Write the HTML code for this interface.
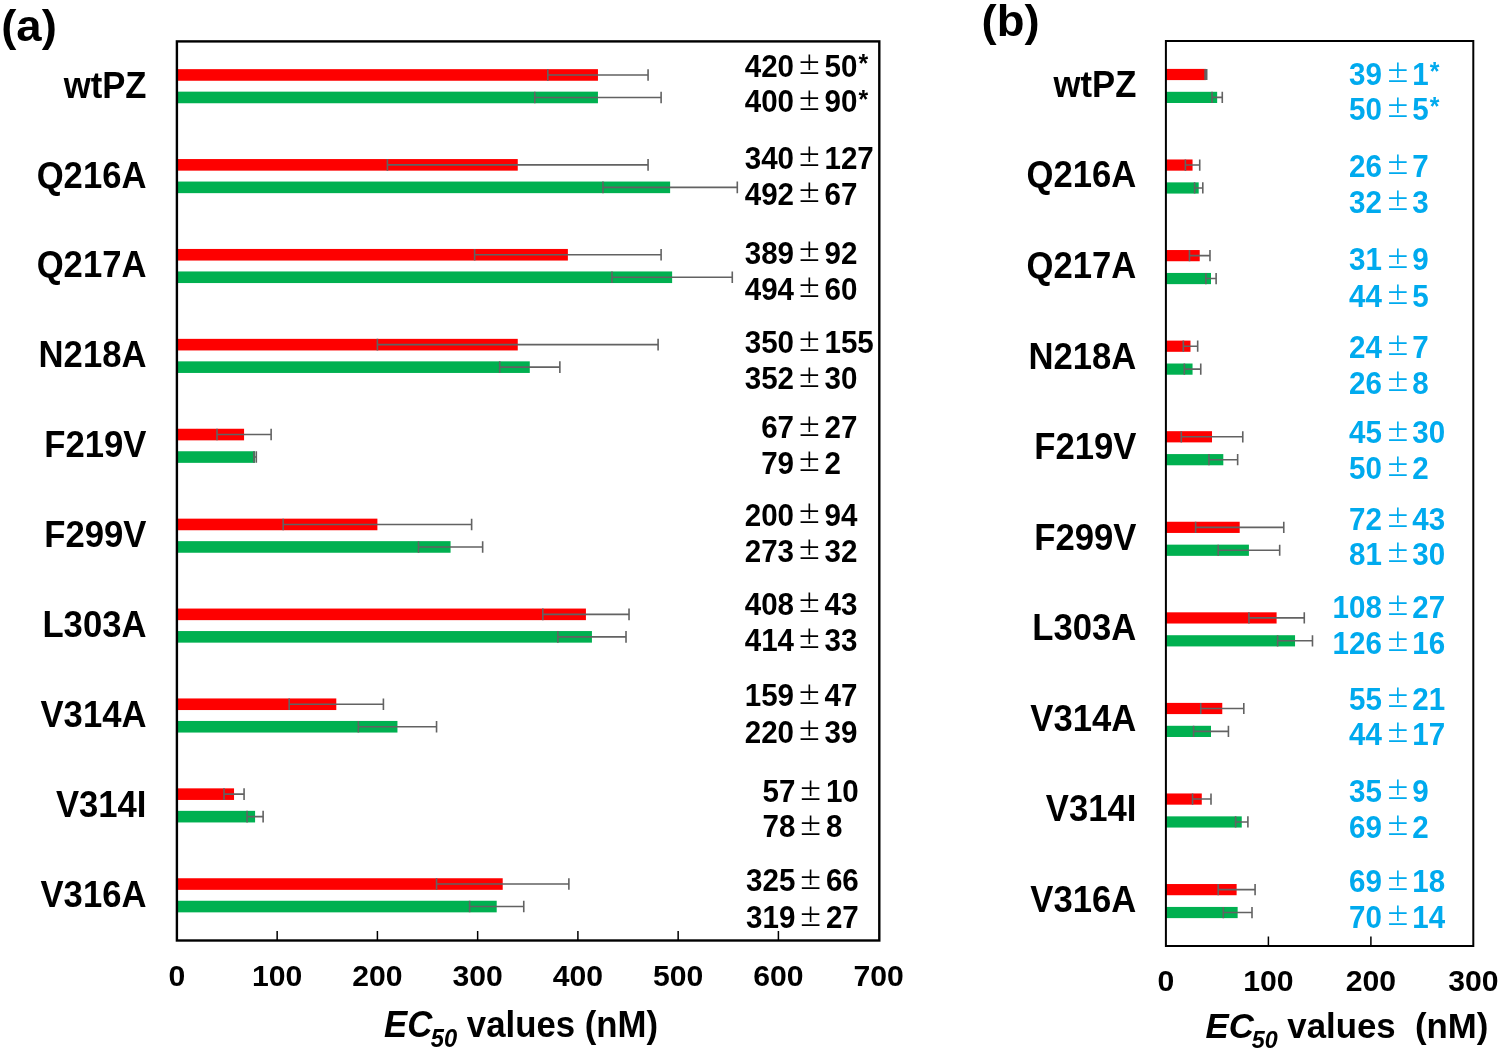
<!DOCTYPE html>
<html lang="en"><head><meta charset="utf-8"><title>EC50 values</title>
<style>html,body{margin:0;padding:0;background:#fff}svg{display:block;will-change:transform}text{font-family:"Liberation Sans",sans-serif;font-weight:bold}.pm{font-family:"Noto Sans CJK JP","IPAGothic",sans-serif;font-weight:400}</style></head><body>
<svg width="1499" height="1057" viewBox="0 0 1499 1057">
<rect width="1499" height="1057" fill="#fff"/>
<rect x="176.90" y="69.15" width="421.05" height="11.6" fill="#fe0000"/>
<path d="M547.82 74.95H648.07M547.82 69.15v11.6M648.07 69.15v11.6" stroke="#626262" stroke-width="1.6" fill="none"/>
<rect x="176.90" y="91.65" width="421.05" height="11.6" fill="#00b050"/>
<path d="M534.79 97.45H661.11M534.79 91.65v11.6M661.11 91.65v11.6" stroke="#626262" stroke-width="1.6" fill="none"/>
<rect x="176.90" y="159.05" width="340.85" height="11.6" fill="#fe0000"/>
<path d="M387.42 164.85H648.07M387.42 159.05v11.6M648.07 159.05v11.6" stroke="#626262" stroke-width="1.6" fill="none"/>
<rect x="176.90" y="181.55" width="493.23" height="11.6" fill="#00b050"/>
<path d="M602.96 187.35H737.30M602.96 181.55v11.6M737.30 181.55v11.6" stroke="#626262" stroke-width="1.6" fill="none"/>
<rect x="176.90" y="248.95" width="390.97" height="11.6" fill="#fe0000"/>
<path d="M474.64 254.75H661.11M474.64 248.95v11.6M661.11 248.95v11.6" stroke="#626262" stroke-width="1.6" fill="none"/>
<rect x="176.90" y="271.45" width="495.23" height="11.6" fill="#00b050"/>
<path d="M611.99 277.25H732.28M611.99 271.45v11.6M732.28 271.45v11.6" stroke="#626262" stroke-width="1.6" fill="none"/>
<rect x="176.90" y="338.85" width="340.85" height="11.6" fill="#fe0000"/>
<path d="M377.40 344.65H658.10M377.40 338.85v11.6M658.10 338.85v11.6" stroke="#626262" stroke-width="1.6" fill="none"/>
<rect x="176.90" y="361.35" width="352.88" height="11.6" fill="#00b050"/>
<path d="M499.71 367.15H559.86M499.71 361.35v11.6M559.86 361.35v11.6" stroke="#626262" stroke-width="1.6" fill="none"/>
<rect x="176.90" y="428.75" width="67.17" height="11.6" fill="#fe0000"/>
<path d="M217.00 434.55H271.13M217.00 428.75v11.6M271.13 428.75v11.6" stroke="#626262" stroke-width="1.6" fill="none"/>
<rect x="176.90" y="451.25" width="78.19" height="11.6" fill="#00b050"/>
<path d="M253.89 457.05H256.30M253.89 451.25v11.6M256.30 451.25v11.6" stroke="#626262" stroke-width="1.6" fill="none"/>
<rect x="176.90" y="518.65" width="200.50" height="11.6" fill="#fe0000"/>
<path d="M283.17 524.45H471.63M283.17 518.65v11.6M471.63 518.65v11.6" stroke="#626262" stroke-width="1.6" fill="none"/>
<rect x="176.90" y="541.15" width="273.68" height="11.6" fill="#00b050"/>
<path d="M418.50 546.95H482.66M418.50 541.15v11.6M482.66 541.15v11.6" stroke="#626262" stroke-width="1.6" fill="none"/>
<rect x="176.90" y="608.55" width="409.02" height="11.6" fill="#fe0000"/>
<path d="M542.81 614.35H629.03M542.81 608.55v11.6M629.03 608.55v11.6" stroke="#626262" stroke-width="1.6" fill="none"/>
<rect x="176.90" y="631.05" width="415.03" height="11.6" fill="#00b050"/>
<path d="M557.85 636.85H626.02M557.85 631.05v11.6M626.02 631.05v11.6" stroke="#626262" stroke-width="1.6" fill="none"/>
<rect x="176.90" y="698.45" width="159.40" height="11.6" fill="#fe0000"/>
<path d="M289.18 704.25H383.41M289.18 698.45v11.6M383.41 698.45v11.6" stroke="#626262" stroke-width="1.6" fill="none"/>
<rect x="176.90" y="720.95" width="220.55" height="11.6" fill="#00b050"/>
<path d="M358.35 726.75H436.55M358.35 720.95v11.6M436.55 720.95v11.6" stroke="#626262" stroke-width="1.6" fill="none"/>
<rect x="176.90" y="788.35" width="57.14" height="11.6" fill="#fe0000"/>
<path d="M224.02 794.15H244.07M224.02 788.35v11.6M244.07 788.35v11.6" stroke="#626262" stroke-width="1.6" fill="none"/>
<rect x="176.90" y="810.85" width="78.19" height="11.6" fill="#00b050"/>
<path d="M247.07 816.65H263.12M247.07 810.85v11.6M263.12 810.85v11.6" stroke="#626262" stroke-width="1.6" fill="none"/>
<rect x="176.90" y="878.25" width="325.81" height="11.6" fill="#fe0000"/>
<path d="M436.55 884.05H568.88M436.55 878.25v11.6M568.88 878.25v11.6" stroke="#626262" stroke-width="1.6" fill="none"/>
<rect x="176.90" y="900.75" width="319.80" height="11.6" fill="#00b050"/>
<path d="M469.63 906.55H523.76M469.63 900.75v11.6M523.76 900.75v11.6" stroke="#626262" stroke-width="1.6" fill="none"/>
<rect x="176.90" y="41.40" width="702.40" height="899.10" fill="none" stroke="#000" stroke-width="2.4"/>
<text transform="translate(176.90 986.00) scale(1.04 1.0)" font-size="29" text-anchor="middle">0</text>
<path d="M277.15 940.50v-9.5" stroke="#000" stroke-width="1.5"/>
<text transform="translate(277.15 986.00) scale(1.04 1.0)" font-size="29" text-anchor="middle">100</text>
<path d="M377.40 940.50v-9.5" stroke="#000" stroke-width="1.5"/>
<text transform="translate(377.40 986.00) scale(1.04 1.0)" font-size="29" text-anchor="middle">200</text>
<path d="M477.65 940.50v-9.5" stroke="#000" stroke-width="1.5"/>
<text transform="translate(477.65 986.00) scale(1.04 1.0)" font-size="29" text-anchor="middle">300</text>
<path d="M577.90 940.50v-9.5" stroke="#000" stroke-width="1.5"/>
<text transform="translate(577.90 986.00) scale(1.04 1.0)" font-size="29" text-anchor="middle">400</text>
<path d="M678.15 940.50v-9.5" stroke="#000" stroke-width="1.5"/>
<text transform="translate(678.15 986.00) scale(1.04 1.0)" font-size="29" text-anchor="middle">500</text>
<path d="M778.40 940.50v-9.5" stroke="#000" stroke-width="1.5"/>
<text transform="translate(778.40 986.00) scale(1.04 1.0)" font-size="29" text-anchor="middle">600</text>
<text transform="translate(878.65 986.00) scale(1.04 1.0)" font-size="29" text-anchor="middle">700</text>
<text transform="translate(146.50 97.60) scale(1.02 1.07)" font-size="34" text-anchor="end">wtPZ</text>
<text transform="translate(146.50 187.50) scale(1.02 1.07)" font-size="34" text-anchor="end">Q216A</text>
<text transform="translate(146.50 277.40) scale(1.02 1.07)" font-size="34" text-anchor="end">Q217A</text>
<text transform="translate(146.50 367.30) scale(1.02 1.07)" font-size="34" text-anchor="end">N218A</text>
<text transform="translate(146.50 457.20) scale(1.02 1.07)" font-size="34" text-anchor="end">F219V</text>
<text transform="translate(146.50 547.10) scale(1.02 1.07)" font-size="34" text-anchor="end">F299V</text>
<text transform="translate(146.50 637.00) scale(1.02 1.07)" font-size="34" text-anchor="end">L303A</text>
<text transform="translate(146.50 726.90) scale(1.02 1.07)" font-size="34" text-anchor="end">V314A</text>
<text transform="translate(146.50 816.80) scale(1.02 1.07)" font-size="34" text-anchor="end">V314I</text>
<text transform="translate(146.50 906.70) scale(1.02 1.07)" font-size="34" text-anchor="end">V316A</text>
<text transform="translate(794.00 76.60) scale(1.037 1.085)" font-size="28.5" text-anchor="end" fill="#000">420</text>
<text transform="translate(809.30 73.90) scale(1 1)" font-size="24.2" text-anchor="middle" fill="#000" class="pm">±</text>
<text transform="translate(824.50 76.60) scale(1.037 1.085)" font-size="28.5" text-anchor="start" fill="#000">50<tspan font-size="24" dx="1.1" dy="-4.5">*</tspan></text>
<text transform="translate(794.00 112.40) scale(1.037 1.085)" font-size="28.5" text-anchor="end" fill="#000">400</text>
<text transform="translate(809.30 109.70) scale(1 1)" font-size="24.2" text-anchor="middle" fill="#000" class="pm">±</text>
<text transform="translate(824.50 112.40) scale(1.037 1.085)" font-size="28.5" text-anchor="start" fill="#000">90<tspan font-size="24" dx="1.1" dy="-4.5">*</tspan></text>
<text transform="translate(794.00 168.60) scale(1.037 1.085)" font-size="28.5" text-anchor="end" fill="#000">340</text>
<text transform="translate(809.30 165.90) scale(1 1)" font-size="24.2" text-anchor="middle" fill="#000" class="pm">±</text>
<text transform="translate(824.50 168.60) scale(1.037 1.085)" font-size="28.5" text-anchor="start" fill="#000">127</text>
<text transform="translate(794.00 204.90) scale(1.037 1.085)" font-size="28.5" text-anchor="end" fill="#000">492</text>
<text transform="translate(809.30 202.20) scale(1 1)" font-size="24.2" text-anchor="middle" fill="#000" class="pm">±</text>
<text transform="translate(824.50 204.90) scale(1.037 1.085)" font-size="28.5" text-anchor="start" fill="#000">67</text>
<text transform="translate(794.00 263.60) scale(1.037 1.085)" font-size="28.5" text-anchor="end" fill="#000">389</text>
<text transform="translate(809.30 260.90) scale(1 1)" font-size="24.2" text-anchor="middle" fill="#000" class="pm">±</text>
<text transform="translate(824.50 263.60) scale(1.037 1.085)" font-size="28.5" text-anchor="start" fill="#000">92</text>
<text transform="translate(794.00 299.70) scale(1.037 1.085)" font-size="28.5" text-anchor="end" fill="#000">494</text>
<text transform="translate(809.30 297.00) scale(1 1)" font-size="24.2" text-anchor="middle" fill="#000" class="pm">±</text>
<text transform="translate(824.50 299.70) scale(1.037 1.085)" font-size="28.5" text-anchor="start" fill="#000">60</text>
<text transform="translate(794.00 353.20) scale(1.037 1.085)" font-size="28.5" text-anchor="end" fill="#000">350</text>
<text transform="translate(809.30 350.50) scale(1 1)" font-size="24.2" text-anchor="middle" fill="#000" class="pm">±</text>
<text transform="translate(824.50 353.20) scale(1.037 1.085)" font-size="28.5" text-anchor="start" fill="#000">155</text>
<text transform="translate(794.00 389.20) scale(1.037 1.085)" font-size="28.5" text-anchor="end" fill="#000">352</text>
<text transform="translate(809.30 386.50) scale(1 1)" font-size="24.2" text-anchor="middle" fill="#000" class="pm">±</text>
<text transform="translate(824.50 389.20) scale(1.037 1.085)" font-size="28.5" text-anchor="start" fill="#000">30</text>
<text transform="translate(794.00 438.30) scale(1.037 1.085)" font-size="28.5" text-anchor="end" fill="#000">67</text>
<text transform="translate(809.30 435.60) scale(1 1)" font-size="24.2" text-anchor="middle" fill="#000" class="pm">±</text>
<text transform="translate(824.50 438.30) scale(1.037 1.085)" font-size="28.5" text-anchor="start" fill="#000">27</text>
<text transform="translate(794.00 473.60) scale(1.037 1.085)" font-size="28.5" text-anchor="end" fill="#000">79</text>
<text transform="translate(809.30 470.90) scale(1 1)" font-size="24.2" text-anchor="middle" fill="#000" class="pm">±</text>
<text transform="translate(824.50 473.60) scale(1.037 1.085)" font-size="28.5" text-anchor="start" fill="#000">2</text>
<text transform="translate(794.00 525.70) scale(1.037 1.085)" font-size="28.5" text-anchor="end" fill="#000">200</text>
<text transform="translate(809.30 523.00) scale(1 1)" font-size="24.2" text-anchor="middle" fill="#000" class="pm">±</text>
<text transform="translate(824.50 525.70) scale(1.037 1.085)" font-size="28.5" text-anchor="start" fill="#000">94</text>
<text transform="translate(794.00 561.60) scale(1.037 1.085)" font-size="28.5" text-anchor="end" fill="#000">273</text>
<text transform="translate(809.30 558.90) scale(1 1)" font-size="24.2" text-anchor="middle" fill="#000" class="pm">±</text>
<text transform="translate(824.50 561.60) scale(1.037 1.085)" font-size="28.5" text-anchor="start" fill="#000">32</text>
<text transform="translate(794.00 614.70) scale(1.037 1.085)" font-size="28.5" text-anchor="end" fill="#000">408</text>
<text transform="translate(809.30 612.00) scale(1 1)" font-size="24.2" text-anchor="middle" fill="#000" class="pm">±</text>
<text transform="translate(824.50 614.70) scale(1.037 1.085)" font-size="28.5" text-anchor="start" fill="#000">43</text>
<text transform="translate(794.00 650.70) scale(1.037 1.085)" font-size="28.5" text-anchor="end" fill="#000">414</text>
<text transform="translate(809.30 648.00) scale(1 1)" font-size="24.2" text-anchor="middle" fill="#000" class="pm">±</text>
<text transform="translate(824.50 650.70) scale(1.037 1.085)" font-size="28.5" text-anchor="start" fill="#000">33</text>
<text transform="translate(794.00 706.30) scale(1.037 1.085)" font-size="28.5" text-anchor="end" fill="#000">159</text>
<text transform="translate(809.30 703.60) scale(1 1)" font-size="24.2" text-anchor="middle" fill="#000" class="pm">±</text>
<text transform="translate(824.50 706.30) scale(1.037 1.085)" font-size="28.5" text-anchor="start" fill="#000">47</text>
<text transform="translate(794.00 742.60) scale(1.037 1.085)" font-size="28.5" text-anchor="end" fill="#000">220</text>
<text transform="translate(809.30 739.90) scale(1 1)" font-size="24.2" text-anchor="middle" fill="#000" class="pm">±</text>
<text transform="translate(824.50 742.60) scale(1.037 1.085)" font-size="28.5" text-anchor="start" fill="#000">39</text>
<text transform="translate(795.40 802.30) scale(1.037 1.085)" font-size="28.5" text-anchor="end" fill="#000">57</text>
<text transform="translate(810.70 799.60) scale(1 1)" font-size="24.2" text-anchor="middle" fill="#000" class="pm">±</text>
<text transform="translate(825.90 802.30) scale(1.037 1.085)" font-size="28.5" text-anchor="start" fill="#000">10</text>
<text transform="translate(795.40 837.40) scale(1.037 1.085)" font-size="28.5" text-anchor="end" fill="#000">78</text>
<text transform="translate(810.70 834.70) scale(1 1)" font-size="24.2" text-anchor="middle" fill="#000" class="pm">±</text>
<text transform="translate(825.90 837.40) scale(1.037 1.085)" font-size="28.5" text-anchor="start" fill="#000">8</text>
<text transform="translate(795.40 891.30) scale(1.037 1.085)" font-size="28.5" text-anchor="end" fill="#000">325</text>
<text transform="translate(810.70 888.60) scale(1 1)" font-size="24.2" text-anchor="middle" fill="#000" class="pm">±</text>
<text transform="translate(825.90 891.30) scale(1.037 1.085)" font-size="28.5" text-anchor="start" fill="#000">66</text>
<text transform="translate(795.40 928.20) scale(1.037 1.085)" font-size="28.5" text-anchor="end" fill="#000">319</text>
<text transform="translate(810.70 925.50) scale(1 1)" font-size="24.2" text-anchor="middle" fill="#000" class="pm">±</text>
<text transform="translate(825.90 928.20) scale(1.037 1.085)" font-size="28.5" text-anchor="start" fill="#000">27</text>
<text transform="translate(1.20 40.70) scale(1.035 1.0)" font-size="44" text-anchor="start">(a)</text>
<text transform="translate(384.00 1037.20) scale(1.023 1.09)" font-size="34" text-anchor="start"><tspan font-style="italic">EC</tspan><tspan font-style="italic" font-size="23.2" dx="-1.5" dy="8.7">50</tspan><tspan dy="-8.7"> values (nM)</tspan></text>
<rect x="1165.90" y="68.90" width="39.97" height="11.2" fill="#fe0000"/>
<path d="M1205.06 74.50H1206.70M1205.06 68.90v11.2M1206.70 68.90v11.2" stroke="#626262" stroke-width="1.6" fill="none"/>
<rect x="1165.90" y="91.80" width="51.25" height="11.2" fill="#00b050"/>
<path d="M1212.03 97.40H1222.28M1212.03 91.80v11.2M1222.28 91.80v11.2" stroke="#626262" stroke-width="1.6" fill="none"/>
<rect x="1165.90" y="159.47" width="26.65" height="11.2" fill="#fe0000"/>
<path d="M1185.38 165.07H1199.73M1185.38 159.47v11.2M1199.73 159.47v11.2" stroke="#626262" stroke-width="1.6" fill="none"/>
<rect x="1165.90" y="182.37" width="32.80" height="11.2" fill="#00b050"/>
<path d="M1194.60 187.97H1202.80M1194.60 182.37v11.2M1202.80 182.37v11.2" stroke="#626262" stroke-width="1.6" fill="none"/>
<rect x="1165.90" y="250.04" width="33.82" height="11.2" fill="#fe0000"/>
<path d="M1189.48 255.64H1209.98M1189.48 250.04v11.2M1209.98 250.04v11.2" stroke="#626262" stroke-width="1.6" fill="none"/>
<rect x="1165.90" y="272.94" width="45.10" height="11.2" fill="#00b050"/>
<path d="M1205.88 278.54H1216.12M1205.88 272.94v11.2M1216.12 272.94v11.2" stroke="#626262" stroke-width="1.6" fill="none"/>
<rect x="1165.90" y="340.61" width="24.60" height="11.2" fill="#fe0000"/>
<path d="M1183.33 346.21H1197.68M1183.33 340.61v11.2M1197.68 340.61v11.2" stroke="#626262" stroke-width="1.6" fill="none"/>
<rect x="1165.90" y="363.51" width="26.65" height="11.2" fill="#00b050"/>
<path d="M1184.35 369.11H1200.75M1184.35 363.51v11.2M1200.75 363.51v11.2" stroke="#626262" stroke-width="1.6" fill="none"/>
<rect x="1165.90" y="431.18" width="46.12" height="11.2" fill="#fe0000"/>
<path d="M1181.28 436.78H1242.78M1181.28 431.18v11.2M1242.78 431.18v11.2" stroke="#626262" stroke-width="1.6" fill="none"/>
<rect x="1165.90" y="454.08" width="57.40" height="11.2" fill="#00b050"/>
<path d="M1208.95 459.68H1237.65M1208.95 454.08v11.2M1237.65 454.08v11.2" stroke="#626262" stroke-width="1.6" fill="none"/>
<rect x="1165.90" y="521.75" width="73.80" height="11.2" fill="#fe0000"/>
<path d="M1195.62 527.35H1283.78M1195.62 521.75v11.2M1283.78 521.75v11.2" stroke="#626262" stroke-width="1.6" fill="none"/>
<rect x="1165.90" y="544.65" width="83.02" height="11.2" fill="#00b050"/>
<path d="M1218.18 550.25H1279.68M1218.18 544.65v11.2M1279.68 544.65v11.2" stroke="#626262" stroke-width="1.6" fill="none"/>
<rect x="1165.90" y="612.32" width="110.70" height="11.2" fill="#fe0000"/>
<path d="M1248.93 617.92H1304.28M1248.93 612.32v11.2M1304.28 612.32v11.2" stroke="#626262" stroke-width="1.6" fill="none"/>
<rect x="1165.90" y="635.22" width="129.15" height="11.2" fill="#00b050"/>
<path d="M1277.62 640.82H1312.48M1277.62 635.22v11.2M1312.48 635.22v11.2" stroke="#626262" stroke-width="1.6" fill="none"/>
<rect x="1165.90" y="702.89" width="56.37" height="11.2" fill="#fe0000"/>
<path d="M1200.75 708.49H1243.80M1200.75 702.89v11.2M1243.80 702.89v11.2" stroke="#626262" stroke-width="1.6" fill="none"/>
<rect x="1165.90" y="725.79" width="45.10" height="11.2" fill="#00b050"/>
<path d="M1193.58 731.39H1228.43M1193.58 725.79v11.2M1228.43 725.79v11.2" stroke="#626262" stroke-width="1.6" fill="none"/>
<rect x="1165.90" y="793.46" width="35.88" height="11.2" fill="#fe0000"/>
<path d="M1192.55 799.06H1211.00M1192.55 793.46v11.2M1211.00 793.46v11.2" stroke="#626262" stroke-width="1.6" fill="none"/>
<rect x="1165.90" y="816.36" width="75.85" height="11.2" fill="#00b050"/>
<path d="M1235.60 821.96H1247.90M1235.60 816.36v11.2M1247.90 816.36v11.2" stroke="#626262" stroke-width="1.6" fill="none"/>
<rect x="1165.90" y="884.03" width="70.72" height="11.2" fill="#fe0000"/>
<path d="M1218.18 889.63H1255.08M1218.18 884.03v11.2M1255.08 884.03v11.2" stroke="#626262" stroke-width="1.6" fill="none"/>
<rect x="1165.90" y="906.93" width="71.75" height="11.2" fill="#00b050"/>
<path d="M1223.30 912.53H1252.00M1223.30 906.93v11.2M1252.00 906.93v11.2" stroke="#626262" stroke-width="1.6" fill="none"/>
<rect x="1165.90" y="41.00" width="307.40" height="905.00" fill="none" stroke="#000" stroke-width="2.0"/>
<text transform="translate(1165.90 991.00) scale(1.04 1.0)" font-size="29" text-anchor="middle">0</text>
<path d="M1268.40 946.00v-9.5" stroke="#000" stroke-width="1.5"/>
<text transform="translate(1268.40 991.00) scale(1.04 1.0)" font-size="29" text-anchor="middle">100</text>
<path d="M1370.90 946.00v-9.5" stroke="#000" stroke-width="1.5"/>
<text transform="translate(1370.90 991.00) scale(1.04 1.0)" font-size="29" text-anchor="middle">200</text>
<text transform="translate(1473.40 991.00) scale(1.04 1.0)" font-size="29" text-anchor="middle">300</text>
<text transform="translate(1136.40 96.80) scale(1.02 1.07)" font-size="34" text-anchor="end">wtPZ</text>
<text transform="translate(1136.40 187.37) scale(1.02 1.07)" font-size="34" text-anchor="end">Q216A</text>
<text transform="translate(1136.40 277.94) scale(1.02 1.07)" font-size="34" text-anchor="end">Q217A</text>
<text transform="translate(1136.40 368.51) scale(1.02 1.07)" font-size="34" text-anchor="end">N218A</text>
<text transform="translate(1136.40 459.08) scale(1.02 1.07)" font-size="34" text-anchor="end">F219V</text>
<text transform="translate(1136.40 549.65) scale(1.02 1.07)" font-size="34" text-anchor="end">F299V</text>
<text transform="translate(1136.40 640.22) scale(1.02 1.07)" font-size="34" text-anchor="end">L303A</text>
<text transform="translate(1136.40 730.79) scale(1.02 1.07)" font-size="34" text-anchor="end">V314A</text>
<text transform="translate(1136.40 821.36) scale(1.02 1.07)" font-size="34" text-anchor="end">V314I</text>
<text transform="translate(1136.40 911.93) scale(1.02 1.07)" font-size="34" text-anchor="end">V316A</text>
<text transform="translate(1381.90 84.90) scale(1.037 1.085)" font-size="28.5" text-anchor="end" fill="#00aaee">39</text>
<text transform="translate(1397.80 82.20) scale(1 1)" font-size="24.2" text-anchor="middle" fill="#00aaee" class="pm">±</text>
<text transform="translate(1412.20 84.90) scale(1.037 1.085)" font-size="28.5" text-anchor="start" fill="#00aaee">1<tspan font-size="24" dx="1.1" dy="-4.5">*</tspan></text>
<text transform="translate(1381.90 119.80) scale(1.037 1.085)" font-size="28.5" text-anchor="end" fill="#00aaee">50</text>
<text transform="translate(1397.80 117.10) scale(1 1)" font-size="24.2" text-anchor="middle" fill="#00aaee" class="pm">±</text>
<text transform="translate(1412.20 119.80) scale(1.037 1.085)" font-size="28.5" text-anchor="start" fill="#00aaee">5<tspan font-size="24" dx="1.1" dy="-4.5">*</tspan></text>
<text transform="translate(1381.90 176.50) scale(1.037 1.085)" font-size="28.5" text-anchor="end" fill="#00aaee">26</text>
<text transform="translate(1397.80 173.80) scale(1 1)" font-size="24.2" text-anchor="middle" fill="#00aaee" class="pm">±</text>
<text transform="translate(1412.20 176.50) scale(1.037 1.085)" font-size="28.5" text-anchor="start" fill="#00aaee">7</text>
<text transform="translate(1381.90 212.60) scale(1.037 1.085)" font-size="28.5" text-anchor="end" fill="#00aaee">32</text>
<text transform="translate(1397.80 209.90) scale(1 1)" font-size="24.2" text-anchor="middle" fill="#00aaee" class="pm">±</text>
<text transform="translate(1412.20 212.60) scale(1.037 1.085)" font-size="28.5" text-anchor="start" fill="#00aaee">3</text>
<text transform="translate(1381.90 270.20) scale(1.037 1.085)" font-size="28.5" text-anchor="end" fill="#00aaee">31</text>
<text transform="translate(1397.80 267.50) scale(1 1)" font-size="24.2" text-anchor="middle" fill="#00aaee" class="pm">±</text>
<text transform="translate(1412.20 270.20) scale(1.037 1.085)" font-size="28.5" text-anchor="start" fill="#00aaee">9</text>
<text transform="translate(1381.90 306.50) scale(1.037 1.085)" font-size="28.5" text-anchor="end" fill="#00aaee">44</text>
<text transform="translate(1397.80 303.80) scale(1 1)" font-size="24.2" text-anchor="middle" fill="#00aaee" class="pm">±</text>
<text transform="translate(1412.20 306.50) scale(1.037 1.085)" font-size="28.5" text-anchor="start" fill="#00aaee">5</text>
<text transform="translate(1381.90 358.10) scale(1.037 1.085)" font-size="28.5" text-anchor="end" fill="#00aaee">24</text>
<text transform="translate(1397.80 355.40) scale(1 1)" font-size="24.2" text-anchor="middle" fill="#00aaee" class="pm">±</text>
<text transform="translate(1412.20 358.10) scale(1.037 1.085)" font-size="28.5" text-anchor="start" fill="#00aaee">7</text>
<text transform="translate(1381.90 394.10) scale(1.037 1.085)" font-size="28.5" text-anchor="end" fill="#00aaee">26</text>
<text transform="translate(1397.80 391.40) scale(1 1)" font-size="24.2" text-anchor="middle" fill="#00aaee" class="pm">±</text>
<text transform="translate(1412.20 394.10) scale(1.037 1.085)" font-size="28.5" text-anchor="start" fill="#00aaee">8</text>
<text transform="translate(1381.90 443.20) scale(1.037 1.085)" font-size="28.5" text-anchor="end" fill="#00aaee">45</text>
<text transform="translate(1397.80 440.50) scale(1 1)" font-size="24.2" text-anchor="middle" fill="#00aaee" class="pm">±</text>
<text transform="translate(1412.20 443.20) scale(1.037 1.085)" font-size="28.5" text-anchor="start" fill="#00aaee">30</text>
<text transform="translate(1381.90 478.70) scale(1.037 1.085)" font-size="28.5" text-anchor="end" fill="#00aaee">50</text>
<text transform="translate(1397.80 476.00) scale(1 1)" font-size="24.2" text-anchor="middle" fill="#00aaee" class="pm">±</text>
<text transform="translate(1412.20 478.70) scale(1.037 1.085)" font-size="28.5" text-anchor="start" fill="#00aaee">2</text>
<text transform="translate(1381.90 529.80) scale(1.037 1.085)" font-size="28.5" text-anchor="end" fill="#00aaee">72</text>
<text transform="translate(1397.80 527.10) scale(1 1)" font-size="24.2" text-anchor="middle" fill="#00aaee" class="pm">±</text>
<text transform="translate(1412.20 529.80) scale(1.037 1.085)" font-size="28.5" text-anchor="start" fill="#00aaee">43</text>
<text transform="translate(1381.90 565.00) scale(1.037 1.085)" font-size="28.5" text-anchor="end" fill="#00aaee">81</text>
<text transform="translate(1397.80 562.30) scale(1 1)" font-size="24.2" text-anchor="middle" fill="#00aaee" class="pm">±</text>
<text transform="translate(1412.20 565.00) scale(1.037 1.085)" font-size="28.5" text-anchor="start" fill="#00aaee">30</text>
<text transform="translate(1381.90 618.10) scale(1.037 1.085)" font-size="28.5" text-anchor="end" fill="#00aaee">108</text>
<text transform="translate(1397.80 615.40) scale(1 1)" font-size="24.2" text-anchor="middle" fill="#00aaee" class="pm">±</text>
<text transform="translate(1412.20 618.10) scale(1.037 1.085)" font-size="28.5" text-anchor="start" fill="#00aaee">27</text>
<text transform="translate(1381.90 654.10) scale(1.037 1.085)" font-size="28.5" text-anchor="end" fill="#00aaee">126</text>
<text transform="translate(1397.80 651.40) scale(1 1)" font-size="24.2" text-anchor="middle" fill="#00aaee" class="pm">±</text>
<text transform="translate(1412.20 654.10) scale(1.037 1.085)" font-size="28.5" text-anchor="start" fill="#00aaee">16</text>
<text transform="translate(1381.90 709.50) scale(1.037 1.085)" font-size="28.5" text-anchor="end" fill="#00aaee">55</text>
<text transform="translate(1397.80 706.80) scale(1 1)" font-size="24.2" text-anchor="middle" fill="#00aaee" class="pm">±</text>
<text transform="translate(1412.20 709.50) scale(1.037 1.085)" font-size="28.5" text-anchor="start" fill="#00aaee">21</text>
<text transform="translate(1381.90 744.90) scale(1.037 1.085)" font-size="28.5" text-anchor="end" fill="#00aaee">44</text>
<text transform="translate(1397.80 742.20) scale(1 1)" font-size="24.2" text-anchor="middle" fill="#00aaee" class="pm">±</text>
<text transform="translate(1412.20 744.90) scale(1.037 1.085)" font-size="28.5" text-anchor="start" fill="#00aaee">17</text>
<text transform="translate(1381.90 801.70) scale(1.037 1.085)" font-size="28.5" text-anchor="end" fill="#00aaee">35</text>
<text transform="translate(1397.80 799.00) scale(1 1)" font-size="24.2" text-anchor="middle" fill="#00aaee" class="pm">±</text>
<text transform="translate(1412.20 801.70) scale(1.037 1.085)" font-size="28.5" text-anchor="start" fill="#00aaee">9</text>
<text transform="translate(1381.90 838.00) scale(1.037 1.085)" font-size="28.5" text-anchor="end" fill="#00aaee">69</text>
<text transform="translate(1397.80 835.30) scale(1 1)" font-size="24.2" text-anchor="middle" fill="#00aaee" class="pm">±</text>
<text transform="translate(1412.20 838.00) scale(1.037 1.085)" font-size="28.5" text-anchor="start" fill="#00aaee">2</text>
<text transform="translate(1381.90 892.30) scale(1.037 1.085)" font-size="28.5" text-anchor="end" fill="#00aaee">69</text>
<text transform="translate(1397.80 889.60) scale(1 1)" font-size="24.2" text-anchor="middle" fill="#00aaee" class="pm">±</text>
<text transform="translate(1412.20 892.30) scale(1.037 1.085)" font-size="28.5" text-anchor="start" fill="#00aaee">18</text>
<text transform="translate(1381.90 928.10) scale(1.037 1.085)" font-size="28.5" text-anchor="end" fill="#00aaee">70</text>
<text transform="translate(1397.80 925.40) scale(1 1)" font-size="24.2" text-anchor="middle" fill="#00aaee" class="pm">±</text>
<text transform="translate(1412.20 928.10) scale(1.037 1.085)" font-size="28.5" text-anchor="start" fill="#00aaee">14</text>
<text transform="translate(981.50 36.00) scale(1.035 1.0)" font-size="44" text-anchor="start">(b)</text>
<text transform="translate(1205.50 1037.50) scale(1.023 1.05)" font-size="34" text-anchor="start"><tspan font-style="italic">EC</tspan><tspan font-style="italic" font-size="22.8" dx="-2" dy="9.6">50</tspan><tspan dy="-9.6"> values  (nM)</tspan></text>
</svg></body></html>
